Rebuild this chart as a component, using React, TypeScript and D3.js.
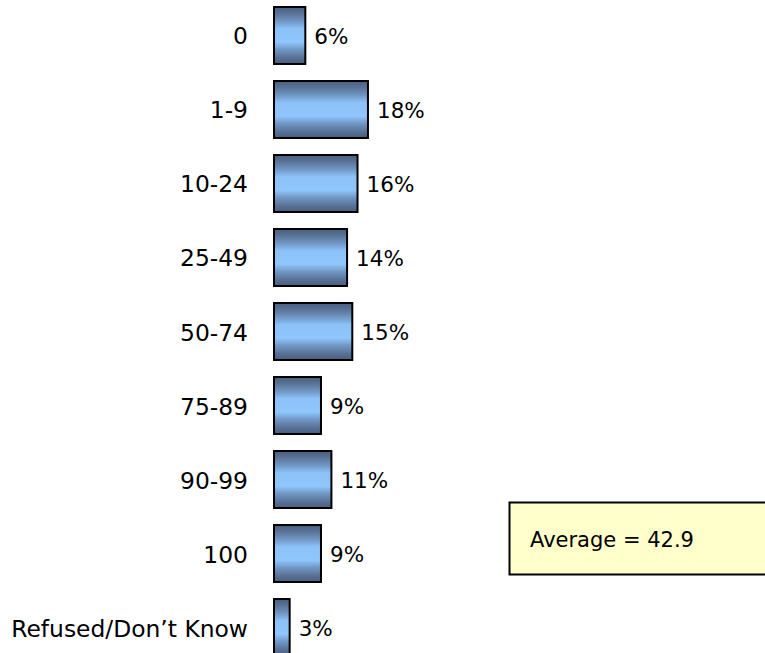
import React from "react";
import * as d3 from "d3";

const categories = ["0", "1-9", "10-24", "25-49", "50-74", "75-89", "90-99", "100", "Refused/Don\u2019t Know"];
const values = [6, 18, 16, 14, 15, 9, 11, 9, 3];
const averageLabel = "Average = 42.9";

const W = 765;
const H = 653;
const FONT = "'DejaVu Sans', sans-serif";

export default function App() {
  const x = d3.scaleLinear().domain([0, 100]).range([274, 274 + 522]);
  const y = d3
    .scaleBand<string>()
    .domain(categories)
    .range([7, 656])
    .paddingInner(0.23)
    .paddingOuter(0);

  const stops = [
    [0, "#4a5f7e"],
    [0.1, "#566f93"],
    [0.26, "#7399c6"],
    [0.38, "#8cc2f8"],
    [0.62, "#8fc6fc"],
    [0.74, "#7399c6"],
    [0.9, "#566f93"],
    [1, "#4a5f7e"],
  ];

  return (
    <div style={{ position: "absolute", left: 0, top: 0 }}>
      <svg width={W} height={H} style={{ display: "block", background: "#fff" }}>
        <defs>
          <linearGradient id="barGrad" x1="0" y1="0" x2="0" y2="1">
            {stops.map(([o, c], i) => (
              <stop key={i} offset={o as number} stopColor={c as string} />
            ))}
          </linearGradient>
        </defs>
        {categories.map((c, i) => {
          const y0 = y(c)!;
          const bw = y.bandwidth();
          const x1 = x(values[i]);
          return (
            <g key={c}>
              <text
                x={248}
                y={y0 + bw / 2 + 1}
                textAnchor="end"
                dominantBaseline="central"
                fontFamily={FONT}
                fontSize={23.4}
                fill="#000"
              >
                {c}
              </text>
              <rect
                x={x(0)}
                y={y0}
                width={x1 - x(0)}
                height={bw}
                fill="url(#barGrad)"
                stroke="#000"
                strokeWidth={2}
              />
              <text
                x={x1 + 9}
                y={y0 + bw / 2 + 1}
                dominantBaseline="central"
                fontFamily={FONT}
                fontSize={21.5}
                fill="#000"
              >
                {values[i]}%
              </text>
            </g>
          );
        })}
        <rect x={509.5} y={502.5} width={300} height={72} fill="#ffffcc" stroke="#000" strokeWidth={2} />
        <text x={530} y={540} dominantBaseline="central" fontFamily={FONT} fontSize={21} fill="#000">
          {averageLabel}
        </text>
      </svg>
    </div>
  );
}
